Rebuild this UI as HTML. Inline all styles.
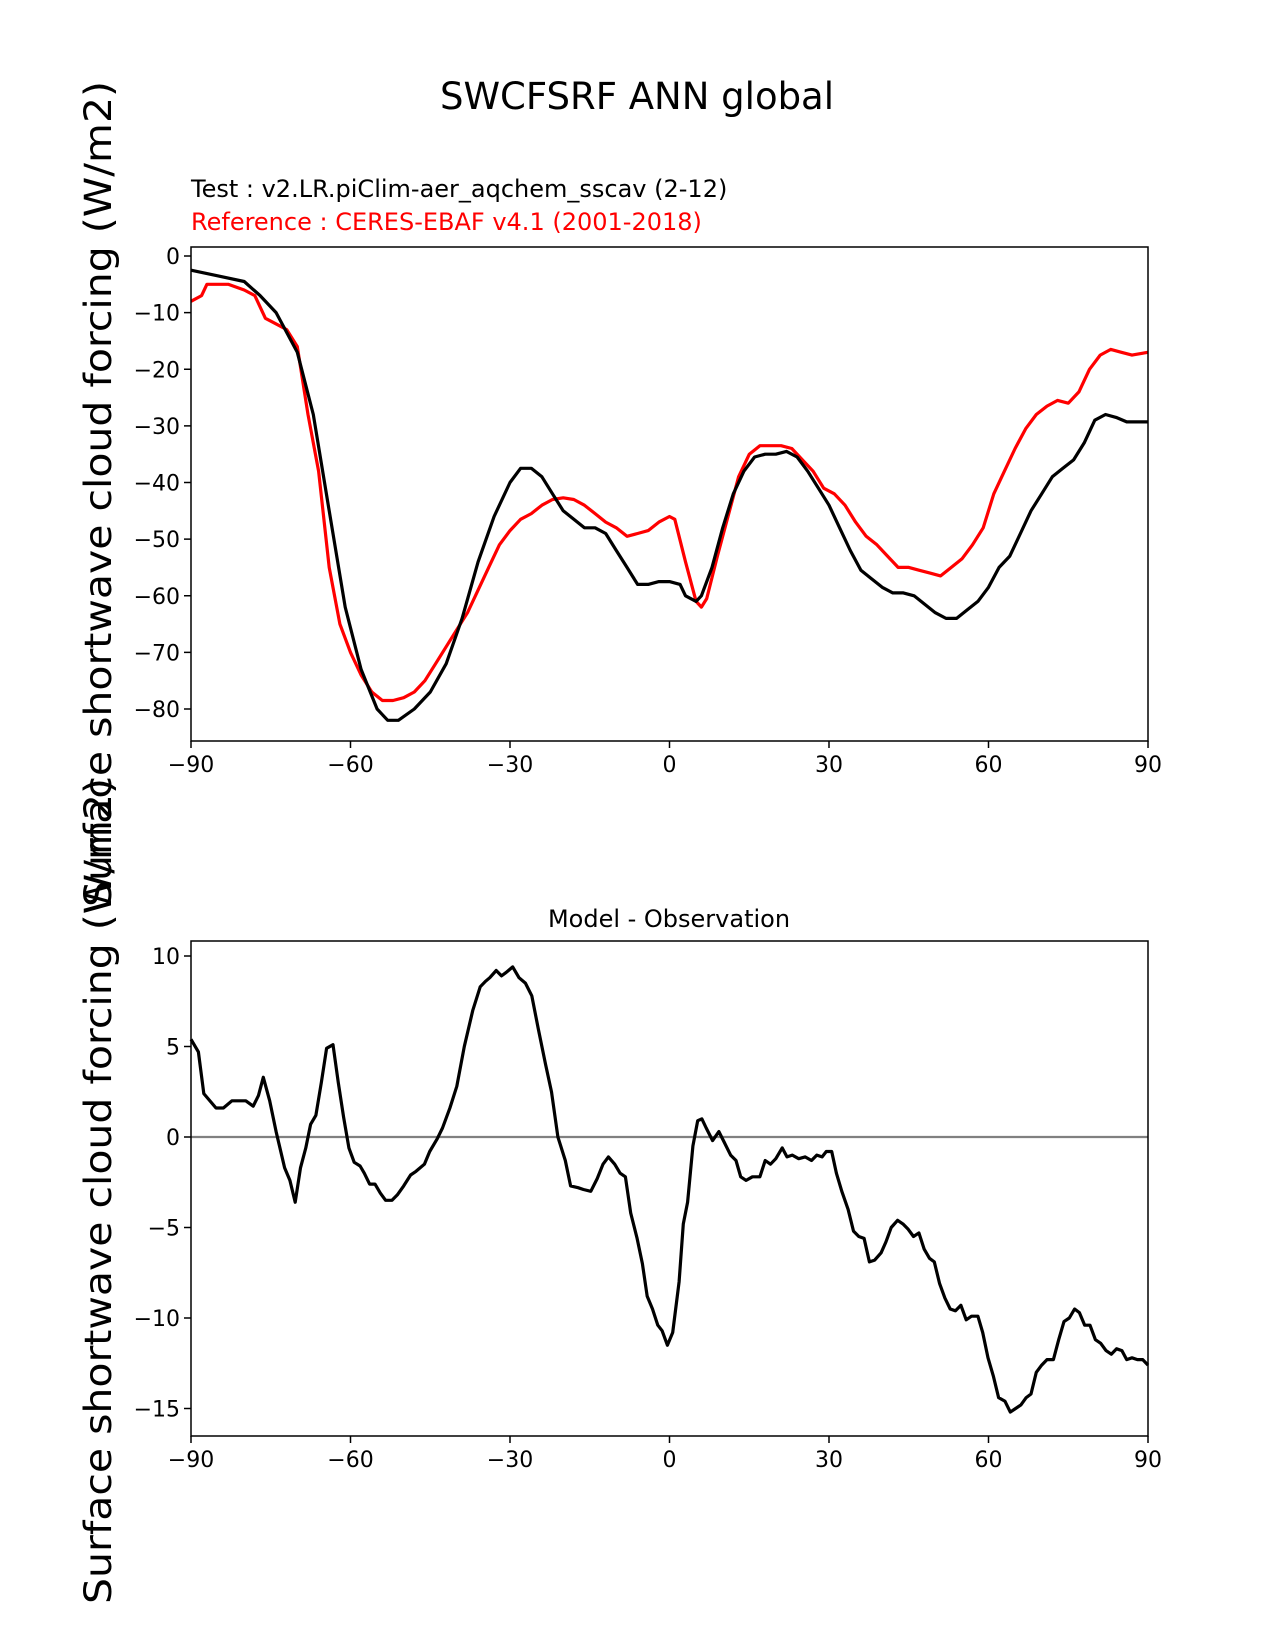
<!DOCTYPE html>
<html><head><meta charset="utf-8"><style>
body{margin:0;background:#fff}
svg{display:block;font-family:"DejaVu Sans","Liberation Sans",sans-serif}
</style></head><body>
<svg id="chart" width="1275" height="1650" viewBox="0 0 1275 1650">
<text x="637" y="109" font-size="37" text-anchor="middle">SWCFSRF ANN global</text>
<text x="191" y="197" font-size="24">Test : v2.LR.piClim-aer_aqchem_sscav (2-12)</text>
<text x="191" y="230" font-size="24" fill="#ff0000">Reference : CERES-EBAF v4.1 (2001-2018)</text>
<text x="669" y="927" font-size="24" text-anchor="middle">Model - Observation</text>
<text transform="translate(111,494) rotate(-90)" font-size="37" text-anchor="middle" textLength="826" lengthAdjust="spacingAndGlyphs">Surface shortwave cloud forcing (W/m2)</text>
<text transform="translate(111,1191) rotate(-90)" font-size="37" text-anchor="middle" textLength="826" lengthAdjust="spacingAndGlyphs">Surface shortwave cloud forcing (W/m2)</text>
<g id="top"></g><g id="bot"></g>
</svg>
<script>
const xTicks=[-90,-60,-30,0,30,60,90];
const topYTicks=[0,-10,-20,-30,-40,-50,-60,-70,-80];
const botYTicks=[10,5,0,-5,-10,-15];
const testLat=[-90,-85,-80,-77,-74,-70,-67,-64,-61,-58,-55,-53,-51,-48,-45,-42,-39,-36,-33,-30,-28,-26,-24,-22,-20,-18,-16,-14,-12,-10,-8,-6,-4,-2,0,2,3,5,6,8,10,12,14,16,18,20,22,24,26,28,30,32,34,36,38,40,42,44,46,48,50,52,54,56,58,60,62,64,66,68,70,72,74,76,78,80,82,84,86,88,90];
const testVal=[-2.5,-3.5,-4.5,-7,-10,-17,-28,-45,-62,-73,-80,-82,-82,-80,-77,-72,-64,-54,-46,-40,-37.5,-37.5,-39,-42,-45,-46.5,-48,-48,-49,-52,-55,-58,-58,-57.5,-57.5,-58,-60,-61,-60,-55,-48,-42,-38,-35.5,-35,-35,-34.5,-35.5,-38,-41,-44,-48,-52,-55.5,-57,-58.5,-59.5,-59.5,-60,-61.5,-63,-64,-64,-62.5,-61,-58.5,-55,-53,-49,-45,-42,-39,-37.5,-36,-33,-29,-28,-28.5,-29.3,-29.3,-29.3];
const refLat=[-90,-88,-87,-85,-83,-80,-78,-76,-74,-72,-70,-68,-66,-64,-62,-60,-58,-56,-54,-52,-50,-48,-46,-44,-42,-40,-38,-36,-34,-32,-30,-28,-26,-24,-22,-20,-18,-16,-14,-12,-10,-8,-6,-4,-2,0,1,3,5,6,7,9,11,13,15,17,19,21,23,25,27,29,31,33,35,37,39,41,43,45,47,49,51,53,55,57,59,61,63,65,67,69,71,73,75,77,79,81,83,85,87,90];
const refVal=[-8,-7,-5,-5,-5,-6,-7,-11,-12,-13,-16,-28,-38,-55,-65,-70,-74,-77,-78.5,-78.5,-78,-77,-75,-72,-69,-66,-63,-59,-55,-51,-48.5,-46.5,-45.5,-44,-43,-42.7,-43,-44,-45.5,-47,-48,-49.5,-49,-48.5,-47,-46,-46.5,-54,-61,-62,-60.5,-53,-46,-39,-35,-33.5,-33.5,-33.5,-34,-36,-38,-41,-42,-44,-47,-49.5,-51,-53,-55,-55,-55.5,-56,-56.5,-55,-53.5,-51,-48,-42,-38,-34,-30.5,-28,-26.5,-25.5,-26,-24,-20,-17.5,-16.5,-17,-17.5,-17];
const diffLat=[-90,-88.6,-87.6,-85.3,-83.9,-82.3,-79.7,-78.3,-77.3,-76.4,-75.2,-74,-72.4,-71.4,-70.4,-69.4,-68.4,-67.5,-66.5,-65.5,-64.5,-63.3,-62.3,-61.3,-60.3,-59.3,-58.2,-57.4,-56.4,-55.4,-54.4,-53.4,-52.2,-51.2,-50,-48.7,-47.7,-46.1,-45.1,-43.7,-42.7,-41.3,-40,-38.6,-37,-35.6,-34.6,-33.8,-32.6,-31.6,-30.7,-29.5,-28.3,-27.1,-25.9,-24.7,-23.3,-22.2,-21,-19.6,-18.6,-17.2,-16.2,-14.8,-13.6,-12.5,-11.5,-10.3,-9.3,-8.3,-7.3,-6.1,-5.1,-4.2,-3.2,-2.2,-1.4,-0.4,0.6,1.8,2.6,3.4,4.4,5.3,6.1,6.9,8.1,9.3,10.3,11.5,12.5,13.4,14.4,15.6,17,18,19,20,21.2,22.1,23.1,24.3,25.5,26.7,27.7,28.7,29.5,30.5,31.4,32.4,33.6,34.6,35.6,36.6,37.6,38.6,39.8,40.7,41.7,42.9,43.9,44.9,45.9,46.9,47.9,48.9,49.8,50.8,51.8,52.8,53.8,54.8,55.8,56.8,58,58.9,59.9,60.9,61.9,63.1,64.1,65.1,66.1,67.1,68,69,70,71,72.2,73.2,74.2,75.2,76.2,77.1,78.1,79.1,80.1,81.1,82.1,83.1,84.1,85.1,86,87,88,89,90];
const diffVal=[5.4,4.7,2.4,1.6,1.6,2,2,1.7,2.3,3.3,2,0.3,-1.7,-2.4,-3.6,-1.7,-0.6,0.7,1.2,3,4.9,5.1,3,1.1,-0.6,-1.4,-1.6,-2,-2.6,-2.6,-3.1,-3.5,-3.5,-3.2,-2.7,-2.1,-1.9,-1.5,-0.8,-0.1,0.5,1.6,2.8,5,7,8.3,8.6,8.8,9.2,8.9,9.1,9.4,8.8,8.5,7.8,6,4,2.5,0,-1.3,-2.7,-2.8,-2.9,-3,-2.3,-1.5,-1.1,-1.5,-2,-2.2,-4.2,-5.6,-7,-8.8,-9.5,-10.4,-10.7,-11.5,-10.8,-8,-4.8,-3.6,-0.5,0.9,1,0.5,-0.2,0.3,-0.3,-1,-1.3,-2.2,-2.4,-2.2,-2.2,-1.3,-1.5,-1.2,-0.6,-1.1,-1,-1.2,-1.1,-1.3,-1,-1.1,-0.8,-0.8,-2,-3,-4,-5.2,-5.5,-5.6,-6.9,-6.8,-6.4,-5.8,-5,-4.6,-4.8,-5.1,-5.5,-5.3,-6.2,-6.7,-6.9,-8.1,-8.9,-9.5,-9.6,-9.3,-10.1,-9.9,-9.9,-10.8,-12.2,-13.2,-14.4,-14.6,-15.2,-15,-14.8,-14.4,-14.2,-13,-12.6,-12.3,-12.3,-11.2,-10.2,-10,-9.5,-9.7,-10.4,-10.4,-11.2,-11.4,-11.8,-12,-11.7,-11.8,-12.3,-12.2,-12.3,-12.3,-12.6];

const NS='http://www.w3.org/2000/svg';
const X0=191,X1=1148;
function xs(v){return X0+(v+90)/180*(X1-X0);}
function mk(p,t,a){const e=document.createElementNS(NS,t);for(const k in a)e.setAttribute(k,a[k]);p.appendChild(e);return e;}
function panel(g,top,bot,ys,yTicks,pre){
  for(const t of xTicks){
    const l=mk(g,'line',{x1:xs(t),x2:xs(t),y1:bot,y2:bot+7,stroke:'#000','stroke-width':1.5});
    
    
    const tx=mk(g,'text',{x:xs(t),y:bot+31,'font-size':22,'text-anchor':'middle'});
    tx.textContent=t<0?'\u2212'+(-t):String(t);
    
    
  }
  for(const t of yTicks){
    const l=mk(g,'line',{x1:X0-7,x2:X0,y1:ys(t),y2:ys(t),stroke:'#000','stroke-width':1.5});
    
    
    const tx=mk(g,'text',{x:X0-11,y:ys(t)+8,'font-size':22,'text-anchor':'end'});
    tx.textContent=t<0?'\u2212'+(-t):String(t);
    
    
  }
}
function line(g,lat,val,ys,col,name){
  const p=mk(g,'polyline',{points:lat.map((v,i)=>xs(v).toFixed(1)+','+ys(val[i]).toFixed(1)).join(' '),fill:'none',stroke:col,'stroke-width':3.2,'stroke-linejoin':'round'});
  
  
}
function frame(g,top,bot,name){
  const r=mk(g,'rect',{x:X0,y:top,width:X1-X0,height:bot-top,fill:'none',stroke:'#000','stroke-width':1.5});
  
  
}
// top
const gt=document.getElementById('top');
const ysT=v=>256+(-v)/80*(709-256);
panel(gt,247,741,ysT,topYTicks,'top-');
line(gt,refLat,refVal,ysT,'#ff0000','reference-series-line');
line(gt,testLat,testVal,ysT,'#000000','test-series-line');
frame(gt,247,741,'top-plot-frame');
// bottom
const gb=document.getElementById('bot');
const ysB=v=>1137-v*(1137-956)/10;
panel(gb,941,1436,ysB,botYTicks,'bottom-');
const z=mk(gb,'line',{x1:X0,x2:X1,y1:ysB(0),y2:ysB(0),stroke:'#808080','stroke-width':2.2});


line(gb,diffLat,diffVal,ysB,'#000000','difference-series-line');
frame(gb,941,1436,'bottom-plot-frame');
</script>
</body></html>
